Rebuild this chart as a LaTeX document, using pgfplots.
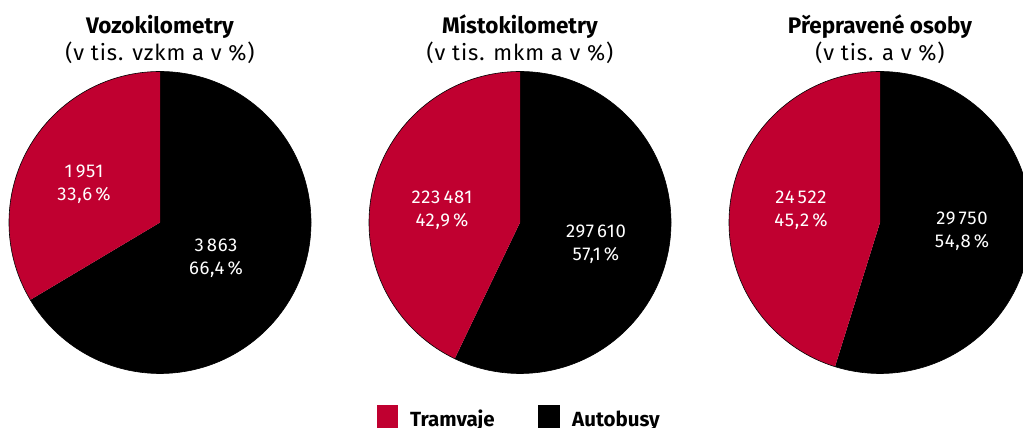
\documentclass[border=0pt]{standalone}
\usepackage{pgfplots}
\pgfplotsset{compat=1.18}
\usepackage{fontspec}
\setmainfont{Fira Sans}
\newfontfamily\lbl[LetterSpace=4]{Fira Sans}
\definecolor{tram}{RGB}{192,0,48}
% data: Tramvaje, Autobusy
\def\trA{1951}   \def\buA{3863}
\def\trB{223481} \def\buB{297610}
\def\trC{24522}  \def\buC{29750}
\edef\angA{\fpeval{round(90+360*\trA/(\trA+\buA),3)}}
\edef\angB{\fpeval{round(90+360*\trB/(\trB+\buB),3)}}
\edef\angC{\fpeval{round(90+360*\trC/(\trC+\buC),3)}}
\pgfplotsset{pieax/.style={hide axis, x=1pt, y=1pt, anchor=origin,
  ymin=-160, ymax=160, xmin=-160, xmax=160, scale only axis}}
\tikzset{vl/.style={text=white, align=center, font=\lbl\fontsize{18.5}{23}\selectfont}}
\newcommand{\pieslices}[1]{%
  \fill[black] (axis cs:0,0) -- (axis cs:0,151) arc[start angle=90, end angle=#1-360, radius=151pt] -- cycle;
  \fill[tram] (axis cs:0,0) -- (axis cs:0,151) arc[start angle=90, end angle=#1, radius=151pt] -- cycle;
  \draw[black, line width=0.6pt] (axis cs:0,0) circle[radius=151pt];
}
\begin{document}
\begin{tikzpicture}
\begin{axis}[pieax, at={(160pt,205.5pt)}]
\pieslices{\angA}
\node[vl] at (axis cs:-76,38) {1\,951\\33,6\,\%};
\node[vl] at (axis cs:56,-36) {3\,863\\66,4\,\%};
\end{axis}
\begin{axis}[pieax, at={(520pt,205.5pt)}]
\pieslices{\angB}
\node[vl] at (axis cs:-78,12) {223\,481\\42,9\,\%};
\node[vl] at (axis cs:76,-22) {297\,610\\57,1\,\%};
\end{axis}
\begin{axis}[pieax, at={(880pt,205.5pt)}, xmax=143]
\pieslices{\angC}
\node[vl] at (axis cs:-79,12) {24\,522\\45,2\,\%};
\node[vl] at (axis cs:82,-9) {29\,750\\54,8\,\%};
\end{axis}
% titles
\foreach \cx/\t/\s in {160/Vozokilometry/(v tis. vzkm a v \%), 520/Místokilometry/(v tis. mkm a v \%), 880/Přepravené osoby/(v tis. a v \%)}{
  \node[anchor=base, font=\fontsize{22.5}{26}\selectfont\bfseries, inner sep=0pt] at (\cx pt,394pt) {\t};
  \node[anchor=base, font=\lbl\fontsize{22}{26}\selectfont, inner sep=0pt] at (\cx pt,367pt) {\s};
}
% legend
\fill[tram] (377pt,0pt) rectangle (398pt,23pt);
\fill[black] (538pt,0pt) rectangle (560pt,23pt);
\node[anchor=base west, inner sep=0pt, font=\fontsize{20.5}{24}\selectfont\bfseries] at (410pt,1.5pt) {Tramvaje};
\node[anchor=base west, inner sep=0pt, font=\fontsize{20.5}{24}\selectfont\bfseries] at (572pt,1.5pt) {Autobusy};
\pgfresetboundingbox
\path[use as bounding box] (0,0) rectangle (1023pt,428pt);
\end{tikzpicture}
\end{document}
